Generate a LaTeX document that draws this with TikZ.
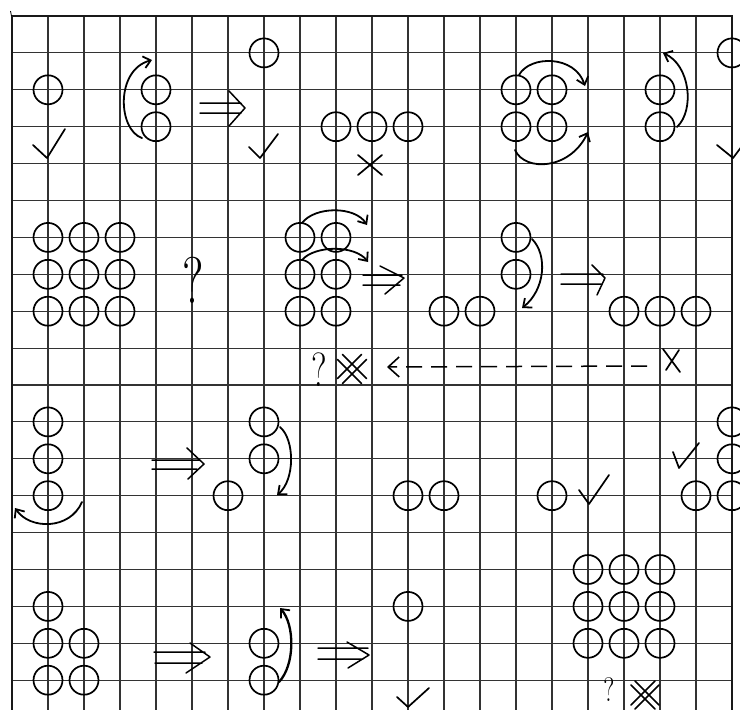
\documentclass[tikz,border=0pt]{standalone}
\usepackage{graphicx}
\usetikzlibrary{arrows.meta}
\newcommand\ball[3]{\node[ball] (#1) at ({12+36*#2},{16+36.9*#3}) {};}
\begin{document}
\begin{tikzpicture}[x=1pt,y=-1pt,
  ball/.style={circle,draw,line width=1.7pt,minimum size=29pt,inner sep=0pt},
  gridline/.style={line width=1.1pt,black!80},
  frameline/.style={line width=2.2pt,black!90},
  curv/.style={line width=1.8pt,line cap=round,-{Straight Barb[length=7pt,width=12pt,line width=1.8pt]}},
  hand/.style={line width=1.7pt,line cap=round,line join=round},
  dblarr/.style={line width=1.5pt,line cap=round,line join=round},
  qmark/.style={inner sep=0pt,outer sep=0pt},
]
\clip (0,0) rectangle (740,710);
\fill[white] (0,0) rectangle (740,710);
% grid
\foreach \c in {1,...,19} \draw[gridline] ({12+36*\c},16) -- ({12+36*\c},710);
\foreach \r in {1,...,18} \draw[gridline] (12,{16+36.9*\r}) -- (732,{16+36.9*\r});
\draw[frameline] (12,710) -- (12,16) -- (732,16) -- (732,710);
\draw[line width=0.8pt] (10.5,11) -- (11.5,16);

% ---------- row 1 ----------
\ball{a1}{1}{2}
\draw[hand] (33,145) -- (47,158) -- (65,129);
\ball{b1}{4}{2} \ball{b2}{4}{3}
\draw[curv] (142,138) .. controls (118,130) and (115,70) .. (152,60);
\draw[dblarr] (200,103) -- (241,103) (200,113) -- (241,113) (229,91) -- (245,108) -- (229,126);
\ball{c1}{7}{1}
\draw[hand] (249,147) -- (260,158) -- (278,134);
\ball{d1}{9}{3} \ball{d2}{10}{3} \ball{d3}{11}{3}
\draw[hand] (358,155) -- (382,175) (382,155) -- (358,175);
\ball{e1}{14}{2} \ball{e2}{15}{2} \ball{e3}{14}{3} \ball{e4}{15}{3}
\draw[curv] (519,75) .. controls (530,55) and (575,55) .. (585,86);
\draw[curv] (515,150) .. controls (525,172) and (570,170) .. (588,132);
\ball{f1}{18}{2} \ball{f2}{18}{3}
\draw[curv] (677,127) .. controls (695,110) and (690,65) .. (663,53);
\ball{g1}{20}{1}
\draw[hand] (717,145) -- (733,158) -- (748,138);

% ---------- row 2 ----------
\ball{h1}{1}{6} \ball{h2}{2}{6} \ball{h3}{3}{6}
\ball{h4}{1}{7} \ball{h5}{2}{7} \ball{h6}{3}{7}
\ball{h7}{1}{8} \ball{h8}{2}{8} \ball{h9}{3}{8}
\node[qmark] (qa) at (193,280) {\fontsize{66}{66}\selectfont\scalebox{0.75}[1]{?}};
\ball{i1}{8}{6} \ball{i2}{9}{6}
\ball{i3}{8}{7} \ball{i4}{9}{7}
\ball{i5}{8}{8} \ball{i6}{9}{8}
\draw[curv] (302,223) .. controls (315,206) and (355,206) .. (367,225);
\draw[curv] (302,260) .. controls (315,245) and (355,245) .. (368,262);
\draw[dblarr] (363,275) -- (402,275) (363,285) -- (400,285) (380,266) -- (404,278) -- (385,294);
\ball{j1}{12}{8} \ball{j2}{13}{8}
\ball{k1}{14}{6} \ball{k2}{14}{7}
\draw[curv] (532,239) .. controls (548,255) and (545,290) .. (522,308);
\draw[dblarr] (561,274) -- (603,274) (561,284) -- (601,284) (592,265) -- (605,278) -- (597,295);
\ball{l1}{17}{8} \ball{l2}{18}{8} \ball{l3}{19}{8}
% dashed return line
\node[qmark] (qb) at (319,370) {\fontsize{48}{48}\selectfont\scalebox{0.75}[1]{?}};
\begin{scope}[shift={(352,369)}]
\draw[line width=1.6pt,line cap=round] (-9.5,-14.5) -- (14.5,9.5) (-14.5,-9.5) -- (9.5,14.5)
  (-9.5,14.5) -- (14.5,-9.5) (-14.5,9.5) -- (9.5,-14.5);
\end{scope}
\draw[line width=1.5pt,dash pattern=on 16pt off 9pt,-{Straight Barb[length=11pt,width=20pt,line width=1.6pt]}] (647,366) -- (387,367);
\draw[hand] (663,349) -- (680,372) (679,350) -- (666,370);

% ---------- row 3 ----------
\ball{m1}{1}{11} \ball{m2}{1}{12} \ball{m3}{1}{13}
\draw[curv] (82,502) .. controls (70,530) and (30,530) .. (15,508);
\draw[dblarr] (152,460) -- (200,460) (152,469) -- (197,469) (187,448) -- (204,464) -- (188,479);
\ball{n1}{6}{13}
\ball{o1}{7}{11} \ball{o2}{7}{12}
\draw[curv] (280,427) .. controls (295,440) and (295,480) .. (277,495);
\ball{p1}{11}{13} \ball{p2}{12}{13}
\ball{q1}{15}{13}
\draw[hand] (579,490) -- (589,504) -- (609,475);
\draw[hand] (673,452) -- (679,468) -- (699,443);
\ball{r1}{19}{13}
\ball{s1}{20}{11} \ball{s2}{20}{12} \ball{s3}{20}{13}

% ---------- row 4 ----------
\ball{t1}{1}{16} \ball{t2}{1}{17} \ball{t3}{2}{17} \ball{t4}{1}{18} \ball{t5}{2}{18}
\draw[dblarr] (154,652) -- (205,652) (155,663) -- (202,663) (190,643) -- (210,657) -- (186,673);
\ball{u1}{7}{17} \ball{u2}{7}{18}
\draw[curv,line width=2.3pt] (279,682) .. controls (295,665) and (295,625) .. (280,608);
\draw[dblarr] (318,648) -- (368,648) (318,659) -- (363,659) (347,642) -- (369,655) -- (348,668);
\ball{v1}{11}{16}
\draw[hand] (397,697) -- (408,707) -- (429,688);
\ball{w1}{16}{15} \ball{w2}{17}{15} \ball{w3}{18}{15}
\ball{w4}{16}{16} \ball{w5}{17}{16} \ball{w6}{18}{16}
\ball{w7}{16}{17} \ball{w8}{17}{17} \ball{w9}{18}{17}
\node[qmark] (qc) at (609,690) {\fontsize{34}{34}\selectfont\scalebox{0.75}[1]{?}};
\begin{scope}[shift={(645,695)}]
\draw[line width=1.6pt,line cap=round] (-10,-14) -- (14,10) (-14,-10) -- (10,14)
  (-10,14) -- (14,-10) (-14,10) -- (10,-14);
\end{scope}
\end{tikzpicture}
\end{document}
